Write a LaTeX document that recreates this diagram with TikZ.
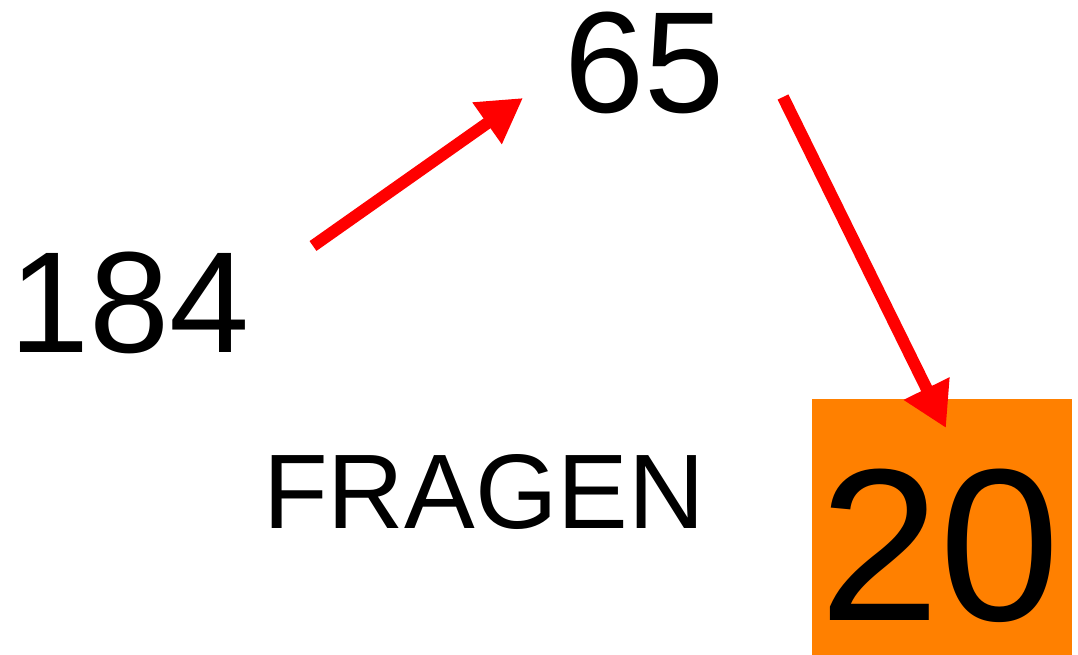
\documentclass[tikz,border=0pt]{standalone}
\usepackage{fontspec}
\setmainfont{Liberation Sans}
\usetikzlibrary{arrows.meta}
\definecolor{boxorange}{HTML}{FF8000}
\tikzset{
  txt/.style={inner sep=0pt, anchor=base west, text height=0.73em, text depth=0pt},
  num/.style={txt, font=\fontsize{144}{150}\selectfont},
  redarrow/.style={draw=red, line width=12pt, -{Triangle[length=44pt,width=48pt]}},
}
\begin{document}
\begin{tikzpicture}[x=1pt,y=-1pt]
\useasboundingbox (0,0) rectangle (1078,655);
\fill[boxorange] (812,399) rectangle (1072,655);
\node[num] (n184) at (9,352) {184};
\node[num] (n65) at (564,113) {65};
\node[txt, font=\fontsize{106}{110}\selectfont] (fragen) at (263,528) {FRAGEN};
\node[txt, font=\fontsize{217}{225}\selectfont] (n20) at (819,620) {20};
\coordinate (a1s) at (313,246);
\coordinate (a1e) at (523,98);
\coordinate (a2s) at (783,97);
\coordinate (a2e) at (946,428);
\draw[redarrow] (a1s) -- (a1e);
\draw[redarrow] (a2s) -- (a2e);
\end{tikzpicture}
\end{document}
